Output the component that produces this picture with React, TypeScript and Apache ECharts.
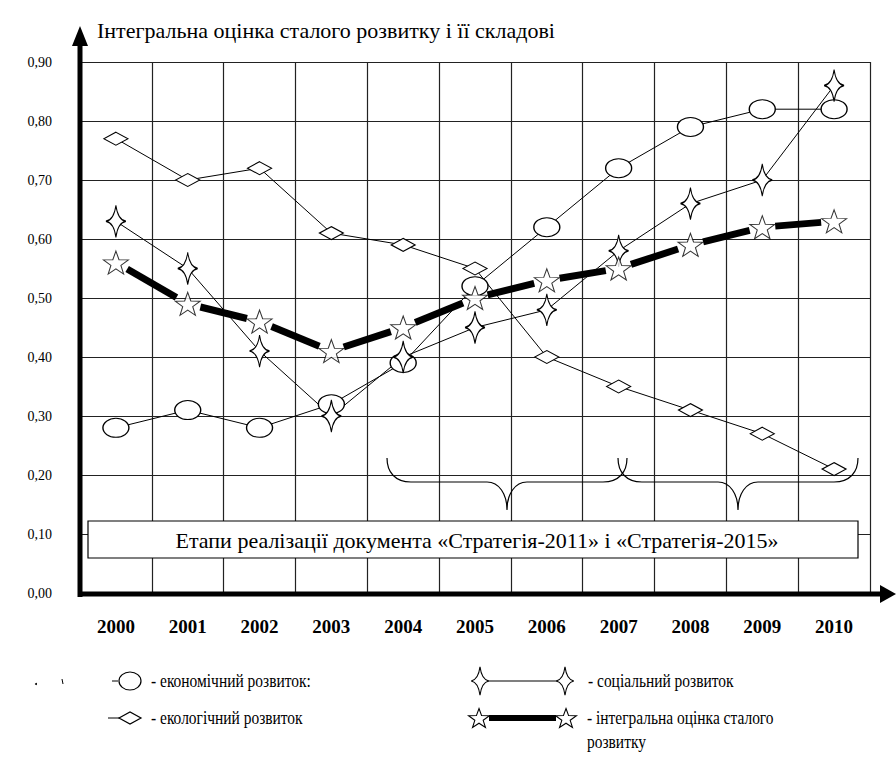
import React, { useEffect, useRef } from "react";
import * as echarts from "echarts";

const years = ["2000", "2001", "2002", "2003", "2004", "2005", "2006", "2007", "2008", "2009", "2010"];
const economic = [0.28, 0.31, 0.28, 0.32, 0.39, 0.52, 0.62, 0.72, 0.79, 0.82, 0.82];
const ecological = [0.77, 0.70, 0.72, 0.61, 0.59, 0.55, 0.40, 0.35, 0.31, 0.27, 0.21];
const social = [0.63, 0.55, 0.41, 0.30, 0.40, 0.45, 0.48, 0.58, 0.66, 0.70, 0.86];
const integral = [0.56, 0.49, 0.46, 0.41, 0.45, 0.50, 0.53, 0.55, 0.59, 0.62, 0.63];

const titleText = "Інтегральна оцінка сталого розвитку і її складові";
const boxText = "Етапи реалізації документа «Стратегія-2011» і «Стратегія-2015»";
const legendEconomic = "- економічний розвиток:";
const legendEcological = "- екологічний розвиток";
const legendSocial = "- соціальний розвиток";
const legendIntegral1 = "- інтегральна оцінка сталого";
const legendIntegral2 = "розвитку";

const STAR5 =
  "M0,-10 L2.351,-3.236 L9.511,-3.09 L3.804,1.236 L5.878,8.09 L0,4 L-5.878,8.09 L-3.804,1.236 L-9.511,-3.09 L-2.351,-3.236 Z";
const STAR4 = "M0,-15 Q1.5,-1.5 8,0 Q1.5,1.5 0,15 Q-1.5,1.5 -8,0 Q-1.5,-1.5 0,-15 Z";
const ELLIPSE = "M0,10 A12,10 0 1,1 24,10 A12,10 0 1,1 0,10 Z";
const BRACE =
  "M0,0 C0,14 8,24 24,24 L100,24 C112,24 120,36 120,52 C120,36 128,24 140,24 L216,24 C232,24 240,14 240,0";

echarts.graphic.registerShape("star5", echarts.graphic.extendPath(STAR5, {}));
echarts.graphic.registerShape("star4", echarts.graphic.extendPath(STAR4, {}));
echarts.graphic.registerShape("brace", echarts.graphic.extendPath(BRACE, {}));

const FONT = "Liberation Serif, Times New Roman, DejaVu Serif, serif";

export default function App() {
  const ref = useRef<HTMLDivElement>(null);

  useEffect(() => {
    if (!ref.current) return;
    const chart = echarts.init(ref.current, null, { renderer: "svg" });

    const lineStyle = { color: "#000", width: 1 };
    const itemStyle = { color: "#fff", borderColor: "#000", borderWidth: 1.2 };

    const text = (t: string, x: number, y: number, size: number, align = "left", scaleX = 1) => ({
      type: "text",
      x,
      y,
      scaleX,
      z: 100,
      style: {
        text: t,
        fontFamily: FONT,
        fontSize: size,
        fill: "#000",
        align,
        verticalAlign: "middle",
      },
    });

    const option: any = {
      animation: false,
      backgroundColor: "#fff",
      textStyle: { fontFamily: FONT },
      grid: { left: 80, right: 26, top: 62, bottom: 183, containLabel: false },
      xAxis: {
        type: "category",
        data: years,
        boundaryGap: true,
        axisLine: { show: false },
        axisTick: { show: false, interval: 0 },
        axisLabel: {
          interval: 0,
          margin: 24,
          fontFamily: FONT,
          fontWeight: "bold",
          fontSize: 19,
          color: "#000",
        },
        splitLine: { show: true, interval: 0, lineStyle: { color: "#222", width: 1.2 } },
      },
      yAxis: {
        type: "value",
        min: 0,
        max: 0.9,
        interval: 0.1,
        axisLine: { show: false },
        axisTick: { show: false },
        axisLabel: {
          margin: 28,
          fontFamily: FONT,
          fontSize: 14,
          color: "#000",
          formatter: (v: number) => v.toFixed(2).replace(".", ","),
        },
        splitLine: { show: true, lineStyle: { color: "#222", width: 1.2 } },
      },
      series: [
        {
          type: "custom",
          name: "integral-line",
          z: 2,
          silent: true,
          encode: { x: 0, y: 1 },
          data: integral.slice(0, -1).map((v, i) => [i, v]),
          renderItem: (params: any, api: any) => {
            const i = params.dataIndex;
            const p1 = api.coord([i, integral[i]]);
            const p2 = api.coord([i + 1, integral[i + 1]]);
            const dx = p2[0] - p1[0];
            const dy = p2[1] - p1[1];
            const len = Math.hypot(dx, dy);
            const g = 13;
            const ux = dx / len;
            const uy = dy / len;
            return {
              type: "line",
              shape: { x1: p1[0] + ux * g, y1: p1[1] + uy * g, x2: p2[0] - ux * g, y2: p2[1] - uy * g },
              style: { stroke: "#000", lineWidth: 7 },
            };
          },
        },
        {
          type: "line",
          name: "економічний розвиток",
          data: economic,
          z: 3,
          symbol: "path://" + ELLIPSE,
          symbolSize: [26, 19],
          showAllSymbol: true,
          lineStyle,
          itemStyle,
        },
        {
          type: "line",
          name: "екологічний розвиток",
          data: ecological,
          z: 3,
          symbol: "diamond",
          symbolSize: [24, 13],
          showAllSymbol: true,
          lineStyle,
          itemStyle,
        },
        {
          type: "line",
          name: "соціальний розвиток",
          data: social,
          z: 3,
          symbol: "path://" + STAR4,
          symbolSize: [20, 32],
          showAllSymbol: true,
          lineStyle,
          itemStyle,
        },
        {
          type: "scatter",
          name: "інтегральна оцінка сталого розвитку",
          data: integral,
          z: 5,
          symbol: "path://" + STAR5,
          symbolSize: [25, 23],
          itemStyle: { color: "#fff", borderColor: "#000", borderWidth: 1 },
        },
      ],
      graphic: [
        // axes with arrows
        { type: "line", z: 50, shape: { x1: 80, y1: 597, x2: 80, y2: 42 }, style: { stroke: "#000", lineWidth: 5 } },
        { type: "polygon", z: 50, shape: { points: [[72, 46], [80, 26], [88, 46]] }, style: { fill: "#000" } },
        { type: "line", z: 50, shape: { x1: 78, y1: 594, x2: 884, y2: 594 }, style: { stroke: "#000", lineWidth: 5 } },
        { type: "polygon", z: 50, shape: { points: [[880, 585], [896, 594], [880, 603]] }, style: { fill: "#000" } },
        // title
        text(titleText, 97, 30, 22, "left", 1),
        // braces
        { type: "brace", x: 387, y: 458, z: 60, style: { fill: "none", stroke: "#000", lineWidth: 1.2 } },
        { type: "brace", x: 618, y: 458, z: 60, style: { fill: "none", stroke: "#000", lineWidth: 1.2 } },
        // annotation box
        {
          type: "rect",
          z: 90,
          shape: { x: 88, y: 521, width: 770, height: 37 },
          style: { fill: "#fff", stroke: "#000", lineWidth: 1.2 },
        },
        text(boxText, 477, 540, 22, "center"),
        // legend row 1 left: economic
        { type: "circle", z: 100, shape: { cx: 36, cy: 684, r: 1 }, style: { fill: "#000" } },
        { type: "line", z: 100, shape: { x1: 62, y1: 679, x2: 63, y2: 684 }, style: { stroke: "#000", lineWidth: 1 } },
        { type: "line", z: 100, shape: { x1: 112, y1: 681, x2: 118, y2: 681 }, style: { stroke: "#000", lineWidth: 1 } },
        {
          type: "ellipse",
          z: 100,
          shape: { cx: 130, cy: 681, rx: 11, ry: 9 },
          style: { fill: "#fff", stroke: "#000", lineWidth: 1.2 },
        },
        text(legendEconomic, 151, 681, 18, "left", 0.86),
        // legend row 2 left: ecological
        { type: "line", z: 100, shape: { x1: 108, y1: 718, x2: 120, y2: 718 }, style: { stroke: "#000", lineWidth: 1 } },
        {
          type: "polygon",
          z: 100,
          shape: { points: [[119, 718], [130, 712], [141, 718], [130, 724]] },
          style: { fill: "#fff", stroke: "#000", lineWidth: 1.2 },
        },
        text(legendEcological, 151, 718, 18, "left", 0.86),
        // legend row 1 right: social
        { type: "line", z: 100, shape: { x1: 480, y1: 681, x2: 565, y2: 681 }, style: { stroke: "#000", lineWidth: 1.2 } },
        { type: "star4", x: 480, y: 681, scaleX: 1.1, scaleY: 0.95, z: 101, style: { fill: "#fff", stroke: "#000", lineWidth: 1 } },
        { type: "star4", x: 565, y: 681, scaleX: 1.1, scaleY: 0.95, z: 101, style: { fill: "#fff", stroke: "#000", lineWidth: 1 } },
        text(legendSocial, 588, 681, 18, "left", 0.86),
        // legend row 2 right: integral
        { type: "line", z: 100, shape: { x1: 489, y1: 718, x2: 556, y2: 718 }, style: { stroke: "#000", lineWidth: 6 } },
        { type: "star5", x: 479, y: 719, scaleX: 1.1, scaleY: 1.05, z: 101, style: { fill: "#fff", stroke: "#000", lineWidth: 1 } },
        { type: "star5", x: 566, y: 719, scaleX: 1.1, scaleY: 1.05, z: 101, style: { fill: "#fff", stroke: "#000", lineWidth: 1 } },
        text(legendIntegral1, 587, 718, 18, "left", 0.86),
        text(legendIntegral2, 587, 742, 18, "left", 0.86),
      ],
    };

    chart.setOption(option);
    return () => chart.dispose();
  }, []);

  return (
    <div
      ref={ref}
      style={{ position: "fixed", left: 0, top: 0, width: 896, height: 776, background: "#fff" }}
    />
  );
}
